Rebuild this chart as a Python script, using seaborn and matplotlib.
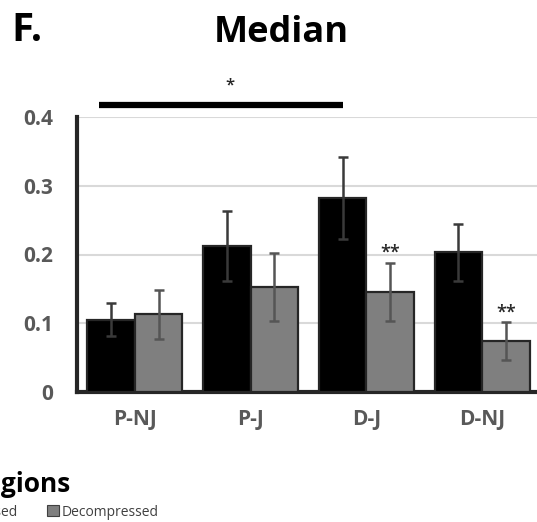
import matplotlib
matplotlib.use("Agg")
import matplotlib.pyplot as plt
import numpy as np
import pandas as pd
import seaborn as sns
from matplotlib.ticker import FuncFormatter

# Daten
regions = ["P-NJ", "P-J", "D-J", "D-NJ"]
conditions = ["Compressed", "Decompressed"]
compressed = [0.105, 0.213, 0.282, 0.203]
compressed_err = [0.024, 0.051, 0.060, 0.041]
decompressed = [0.113, 0.153, 0.146, 0.074]
decompressed_err = [0.036, 0.049, 0.042, 0.028]
# Sterne ueber den Balken: (Region, Bedingung, Hoehe, Text)
stars = [("D-J", "Decompressed", 0.195, "**"), ("D-NJ", "Decompressed", 0.108, "**")]

df = pd.DataFrame({
    "region": regions * 2,
    "condition": [conditions[0]] * 4 + [conditions[1]] * 4,
    "value": compressed + decompressed,
})

sns.set_style("white")
plt.rcParams["font.family"] = ["Open Sans", "DejaVu Sans"]

fig = plt.figure(figsize=(5.37, 5.22), dpi=100)
ax = fig.add_axes([77 / 537, 130 / 522, 463 / 537, 275 / 522])

sns.barplot(data=df, x="region", y="value", hue="condition", order=regions,
            hue_order=conditions, palette=["black", "#7f7f7f"], width=0.82,
            edgecolor="#262626", linewidth=1.6, errorbar=None, ax=ax, zorder=3)
ax.get_legend().remove()

# Fehlerbalken
err_colors = ["#3a3a3a", "#555555"]
for cont, errs, col in zip(ax.containers, [compressed_err, decompressed_err], err_colors):
    xs = [b.get_x() + b.get_width() / 2 for b in cont]
    ys = [b.get_height() for b in cont]
    ax.errorbar(xs, ys, yerr=errs, fmt="none", ecolor=col, elinewidth=1.8,
                capsize=3.7, capthick=1.8, zorder=4)

# Sterne
for reg, cond, h, txt in stars:
    cont = ax.containers[conditions.index(cond)]
    b = cont[regions.index(reg)]
    ax.text(b.get_x() + b.get_width() / 2, h, txt, ha="center", va="baseline",
            fontsize=13, fontweight="semibold", color="#262626")

# Signifikanzlinie
ax.plot([-0.31, 1.80], [0.4175, 0.4175], color="black", lw=4.5,
        solid_capstyle="butt", clip_on=False)
ax.text(0.82, 0.44, "*", ha="center", va="baseline", fontsize=12,
        fontweight="semibold", color="#262626")

ax.set_ylim(0, 0.4)
ax.set_xlim(-0.5, 3.5)
ax.set_yticks([0, 0.1, 0.2, 0.3, 0.4])
ax.yaxis.set_major_formatter(FuncFormatter(lambda v, p: "0" if v == 0 else f"{v:.1f}"))
ax.yaxis.grid(True, color="#d9d9d9", lw=1.5, zorder=0)
ax.set_axisbelow(True)
ax.set_xlabel("")
ax.set_ylabel("")
sns.despine(ax=ax, top=True, right=True)
for s in ["left", "bottom"]:
    ax.spines[s].set_color("#262626")
    ax.spines[s].set_linewidth(3)
ax.tick_params(axis="both", length=0, labelcolor="#595959")
ax.tick_params(axis="y", pad=17, labelsize=15)
ax.tick_params(axis="x", pad=12, labelsize=15)
for lab in ax.get_xticklabels() + ax.get_yticklabels():
    lab.set_fontweight("bold")

# Titel
fig.text(281 / 537, 1 - 42 / 522, "Median", ha="center", va="baseline",
         fontsize=26, fontweight="bold", color="black")
fig.text(11 / 537, 1 - 41 / 522, "F.", ha="left", va="baseline",
         fontsize=29, fontweight="bold", color="black")

# Legende (links abgeschnitten)
fig.text(71 / 537, 1 - 492 / 522, "Regions", ha="right", va="baseline",
         fontsize=19, fontweight="bold", color="black")
leg_handles = [plt.Rectangle((0, 0), 1, 1, fc="black", ec="#404040", lw=0.8),
               plt.Rectangle((0, 0), 1, 1, fc="#7f7f7f", ec="#404040", lw=0.8)]
fig.legend(leg_handles, conditions, loc="center right", ncol=2, frameon=False,
           bbox_to_anchor=(159 / 537, 1 - 512 / 522), fontsize=10,
           handlelength=0.85, handleheight=0.85, handletextpad=0.25,
           columnspacing=2.1, labelcolor="#404040", borderaxespad=0, borderpad=0)

fig.savefig("out.png", dpi=100)
